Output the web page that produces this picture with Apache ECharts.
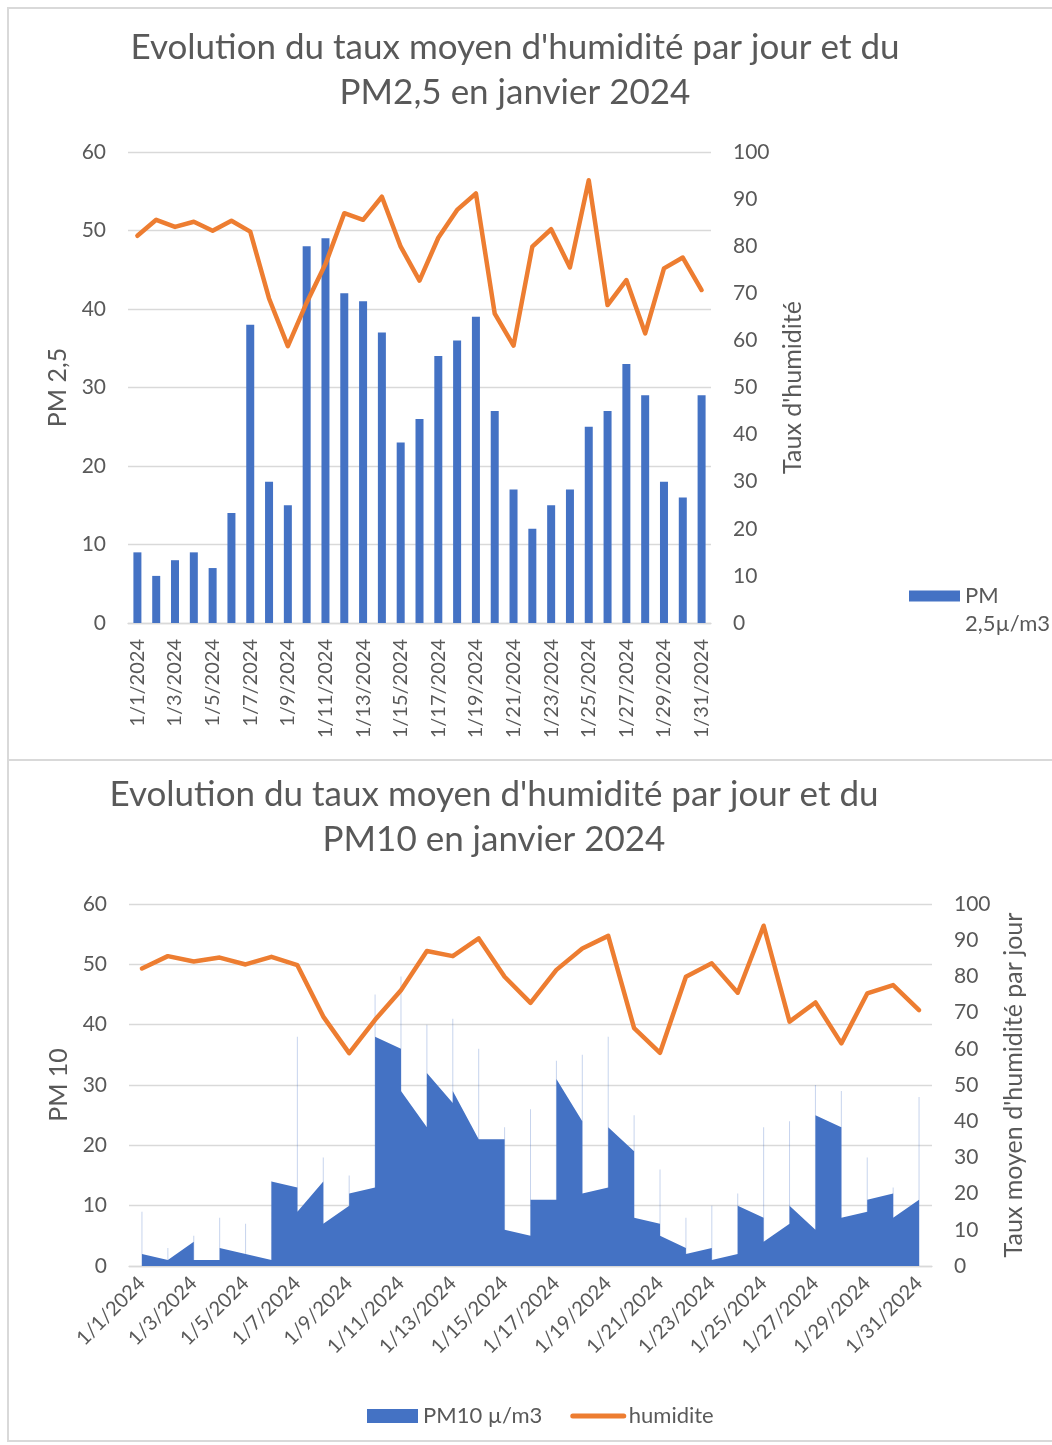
<!DOCTYPE html>
<html>
<head>
<meta charset="utf-8">
<script src="https://cdn.jsdelivr.net/npm/echarts@6/dist/echarts.min.js"></script>
<style>
  html, body { margin: 0; padding: 0; background: #fff; }
  #haut { position: absolute; left: 0; top: 0; width: 1052px; height: 760px; }
  #bas { position: absolute; left: 0; top: 760px; width: 1052px; height: 685px; }
  .trait { position: absolute; background: #d9d9d9; }
</style>
</head>
<body>
<div class="trait" style="left:7px;top:7px;width:1045px;height:2px"></div>
<div class="trait" style="left:7px;top:7px;width:2px;height:1434px"></div>
<div class="trait" style="left:7px;top:759px;width:1045px;height:2px"></div>
<div class="trait" style="left:7px;top:1440px;width:1045px;height:2px"></div>
<div id="haut"></div>
<div id="bas"></div>
<script>
// données de janvier 2024
const jours = ['1/1/2024', '1/2/2024', '1/3/2024', '1/4/2024', '1/5/2024', '1/6/2024', '1/7/2024', '1/8/2024',
  '1/9/2024', '1/10/2024', '1/11/2024', '1/12/2024', '1/13/2024', '1/14/2024', '1/15/2024', '1/16/2024',
  '1/17/2024', '1/18/2024', '1/19/2024', '1/20/2024', '1/21/2024', '1/22/2024', '1/23/2024', '1/24/2024',
  '1/25/2024', '1/26/2024', '1/27/2024', '1/28/2024', '1/29/2024', '1/30/2024', '1/31/2024']
const pm25 = [9, 6, 8, 9, 7, 14, 38, 18, 15, 48, 49, 42, 41, 37, 23, 26, 34, 36, 39, 27, 17, 12, 15, 17, 25, 27, 33, 29, 18, 16, 29]
const humidite = [82.2, 85.6, 84.1, 85.2, 83.3, 85.4, 83.1, 68.9, 58.8, 68, 76.2, 87, 85.6, 90.5, 79.9, 72.7,
  81.8, 87.7, 91.2, 65.7, 58.9, 79.9, 83.6, 75.5, 94, 67.5, 72.8, 61.5, 75.3, 77.6, 70.7]
// PM10 : valeur d'arrivée sur le jour, valeur de départ, et pic (trait fin)
const pm10Arrivee = [null, 1, 4, 1, 2, 1, 13, 14, 10, 13, 36, 23, 27, 21, 21, 5, 11, 24, 13, 19, 7, 3, 3, 2, 8, 7, 6, 23, 9, 12, 11]
const pm10Depart = [2, 1, 1, 3, 2, 14, 9, 7, 12, 38, 29, 32, 29, 21, 6, 11, 31, 12, 23, 8, 5, 2, 1, 10, 4, 10, 25, 8, 11, 8, 11]
const pm10Pic = [9, 3, 5, 8, 7, 14, 38, 18, 15, 45, 48, 40, 41, 36, 23, 26, 34, 35, 38, 25, 16, 8, 10, 12, 23, 24, 30, 29, 18, 13, 28]

const police = 'Lato'
const gris = '#595959'
const bleu = '#4472C4'
const orange = '#ED7D31'

const titre = (x, y, texte) => ({
  type: 'text', x: x, y: y,
  style: {text: texte, fill: gris, font: '35px ' + police, align: 'center', verticalAlign: 'middle'}
})

const axeY = (max, nom, gap, grille) => ({
  type: 'value', min: 0, max: max, interval: 10,
  name: nom, nameLocation: 'middle', nameRotate: 90, nameGap: gap,
  nameTextStyle: {color: gris, fontSize: 25, fontFamily: police},
  axisLine: {show: false}, axisTick: {show: false},
  axisLabel: {color: gris, fontSize: 21, fontFamily: police, margin: 22},
  splitLine: {show: grille, lineStyle: {color: '#d9d9d9', width: 1.3}}
})

const axeX = (rotation, marge) => ({
  type: 'category', data: jours, boundaryGap: true,
  axisLine: {lineStyle: {color: '#d9d9d9', width: 1.3}},
  axisTick: {interval: 1, length: 8, lineStyle: {color: '#d9d9d9', width: 1.3}},
  axisLabel: {interval: 1, rotate: rotation, margin: marge, color: gris, fontSize: 20, fontFamily: police}
})

// graphique du haut : PM2,5
const graphHaut = echarts.init(document.getElementById('haut'))
graphHaut.setOption({
  animation: false,
  graphic: [titre(515, 48, "Evolution du taux moyen d'humidité par jour et du"), titre(515, 93, 'PM2,5 en janvier 2024')],
  grid: {left: 128, top: 152, width: 583, height: 471},
  legend: {
    data: [{name: 'PM 2,5µ/m3', icon: 'rect'}],
    left: 909, top: 554, padding: 0, itemWidth: 51, itemHeight: 11,
    formatter: () => ' \nPM\n2,5µ/m3',
    textStyle: {color: gris, fontSize: 22, fontFamily: police, lineHeight: 28}
  },
  xAxis: axeX(90, 16),
  yAxis: [axeY(60, 'PM 2,5', 54, true), axeY(100, "Taux d'humidité", 65, false)],
  series: [
    {name: 'PM 2,5µ/m3', type: 'bar', data: pm25, barWidth: 8, itemStyle: {color: bleu}},
    {name: 'humidite', type: 'line', yAxisIndex: 1, data: humidite, symbol: 'none',
      lineStyle: {color: orange, width: 4.5, cap: 'round', join: 'round'}}
  ]
})

// graphique du bas : PM10 (aire)
const aire = []
jours.forEach((j, i) => {
  if (pm10Arrivee[i] != null) aire.push([i + 1, pm10Arrivee[i]])
  aire.push([i + 1, pm10Depart[i]])
})

const graphBas = echarts.init(document.getElementById('bas'))
graphBas.setOption({
  animation: false,
  graphic: [titre(494, 35, "Evolution du taux moyen d'humidité par jour et du"), titre(494, 80, 'PM10 en janvier 2024')],
  grid: {left: 129, top: 144, width: 803, height: 362},
  legend: {
    data: [
      {name: 'PM10 µ/m3', icon: 'rect'},
      {name: 'humidite', itemStyle: {opacity: 0}, lineStyle: {width: 5, cap: 'round'}}
    ],
    left: 367, top: 645, padding: 0, itemWidth: 51, itemHeight: 14, itemGap: 28,
    textStyle: {color: gris, fontSize: 22, fontFamily: police}
  },
  xAxis: [
    axeX(45, 14),
    {type: 'value', min: 0.5, max: 31.5, show: false}
  ],
  yAxis: [axeY(60, 'PM 10', 55, true), axeY(100, "Taux moyen d'humidité par jour", 69, false)],
  series: [
    {name: 'pic', type: 'bar', data: pm10Pic, barWidth: 1, z: 1,
      itemStyle: {color: 'rgba(68,114,196,0.3)'}},
    {name: 'PM10 µ/m3', type: 'line', xAxisIndex: 1, data: aire, symbol: 'none', z: 2,
      itemStyle: {color: bleu}, lineStyle: {width: 0}, areaStyle: {color: bleu, opacity: 1}},
    {name: 'humidite', type: 'line', yAxisIndex: 1, data: humidite, symbol: 'none', z: 3,
      itemStyle: {color: orange}, lineStyle: {color: orange, width: 4.5, cap: 'round', join: 'round'}}
  ]
})
</script>
</body>
</html>
